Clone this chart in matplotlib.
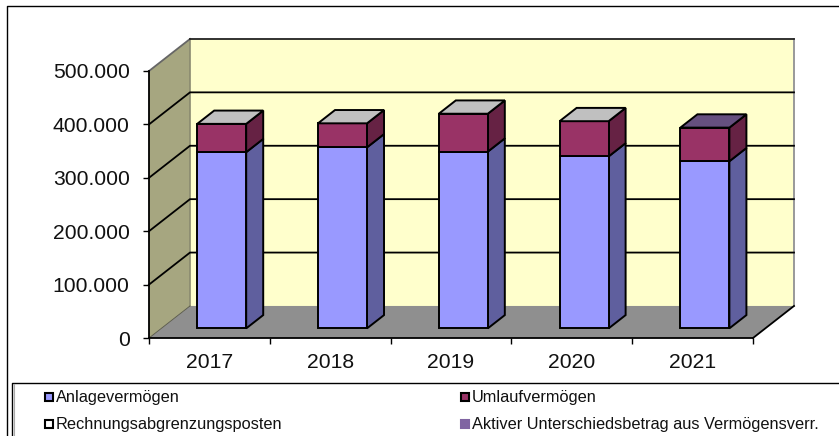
import matplotlib
matplotlib.use('Agg')
import matplotlib.pyplot as plt
from matplotlib.patches import Polygon, Rectangle

years = ['2017', '2018', '2019', '2020', '2021']
anlage = [330000, 339000, 331000, 322000, 313000]
umlauf = [53000, 45000, 71000, 66000, 63000]
yticks = [0, 100000, 200000, 300000, 400000, 500000]
ylabels = ['0', '100.000', '200.000', '300.000', '400.000', '500.000']
legend_names = ['Anlagevermögen', 'Umlaufvermögen', 'Rechnungsabgrenzungsposten',
                'Aktiver Unterschiedsbetrag aus Vermögensverr.']

W, H = 839, 436
plt.rcParams['font.family'] = ['Liberation Sans', 'DejaVu Sans']

fig = plt.figure(figsize=(W / 100, H / 100), dpi=100)
# page layer in pixels for the frame and the legend
page = fig.add_axes([0, 0, 1, 1])
page.set_xlim(0, W)
page.set_ylim(H, 0)
page.axis('off')

# chart axes = front plane of the 3d box
x0, x1, y0, y1 = 149, 753, 338, 71
ax = fig.add_axes([x0 / W, 1 - y0 / H, (x1 - x0) / W, (y0 - y1) / H])
ax.set_xlim(0, 5)
ax.set_ylim(0, 500000)
ax.patch.set_visible(False)
for s in ['top', 'right']:
    ax.spines[s].set_visible(False)
for s in ['left', 'bottom']:
    ax.spines[s].set_linewidth(1.3)
ax.set_xticks(range(6))
ax.set_xticklabels([])
ax.set_yticks(yticks)
ax.set_yticklabels(ylabels, fontsize=15.2, color='#111111')
ax.tick_params(axis='both', length=4, width=1, color='black')
ax.tick_params(axis='y', pad=10)
for i, y in enumerate(years):
    ax.text(i + 0.5, -46500, y, ha='center', va='center', fontsize=15.2, color='#111111')

DX = 41 / 120.8   # depth of the box in category units
DY = 60000        # depth of the box in value units


def proj(x, y, d):
    # d: 0 front plane, 1 back wall
    return (x + DX * d, y + DY * d)


def poly(pts, color, lw=0.0, ec='black', z=1):
    ax.add_patch(Polygon(pts, closed=True, fc=color, ec=ec, lw=lw, clip_on=False,
                         zorder=z, joinstyle='miter'))


# walls
poly([proj(0, 0, 1), proj(5, 0, 1), proj(5, 500000, 1), proj(0, 500000, 1)], '#FFFFCC', 0)
poly([proj(0, 0, 0), proj(0, 0, 1), proj(0, 500000, 1), proj(0, 500000, 0)], '#A6A680', 0)
poly([proj(0, 0, 0), proj(5, 0, 0), proj(5, 0, 1), proj(0, 0, 1)], '#8F8F8F', 0)
# grey wall edges
ax.plot(*zip(proj(0, 0, 1), proj(0, 500000, 1)), color='#8A8A70', lw=1.2, clip_on=False, zorder=2)
ax.plot(*zip(proj(5, 0, 1), proj(5, 500000, 1)), color='#999999', lw=1.4, clip_on=False, zorder=2)
ax.plot(*zip(proj(5, 0, 0), proj(5, 0, 1)), color='black', lw=1.3, clip_on=False, zorder=2)

# grid on side wall and back wall
for v in yticks[1:-1]:
    ax.plot(*zip(proj(0, v, 0), proj(0, v, 1), proj(5, v, 1)), color='black', lw=1.3,
            clip_on=False, zorder=2, solid_joinstyle='miter')
ax.plot(*zip(proj(0, 500000, 0), proj(0, 500000, 1)), color='#666666', lw=1.3, clip_on=False, zorder=2)
ax.plot(*zip(proj(0, 500000, 1), proj(5, 500000, 1)), color='#222222', lw=1.3, clip_on=False, zorder=2)
ax.plot(*zip(proj(0, 0, 0), proj(0, 0, 1)), color='#555544', lw=0.6, clip_on=False, zorder=2)

# bars
bar_w = 49 / 120.8
d_front, d_back = 0.30, 0.715
sides = ['#5F5F9E', '#662244']
fronts = ['#9999FF', '#993366']
tops = ['#C0C0C0', '#C0C0C0', '#C0C0C0', '#C0C0C0', '#66507F']
for i in range(len(years)):
    left = i + 0.5 - bar_w / 2
    right = left + bar_w
    bottom = 0
    for vals, fc, sc in zip([anlage, umlauf], fronts, sides):
        top = bottom + vals[i]
        poly([proj(right, bottom, d_front), proj(right, bottom, d_back),
              proj(right, top, d_back), proj(right, top, d_front)], sc, 1.4, z=3)
        poly([proj(left, bottom, d_front), proj(right, bottom, d_front),
              proj(right, top, d_front), proj(left, top, d_front)], fc, 1.4, z=4)
        bottom = top
    poly([proj(left, bottom, d_front), proj(right, bottom, d_front),
          proj(right, bottom, d_back), proj(left, bottom, d_back)], tops[i], 1.4, z=4)

# frame around chart, open on the right
page.plot([7, 7, 839], [436, 6, 6], color='black', lw=1.0)
# legend box
page.plot([12, 12, 839], [436, 383, 383], color='black', lw=1.0, zorder=5)
page.plot([13.5, 13.5], [384, 436], color='#aaaaaa', lw=0.8, zorder=6)
page.set_zorder(0)
ax.set_zorder(1)

leg_x = [44, 460]
leg_y = [397, 424]
swatches = [('#9999FF', 'black'), ('#993366', 'black'), ('white', 'black'), ('#8064A2', '#8064A2')]
for k, name in enumerate(legend_names):
    lx = leg_x[k % 2]
    ly = leg_y[k // 2]
    fc, ec = swatches[k]
    page.add_patch(Rectangle((lx + 0.5, ly - 4), 8, 8, fc=fc, ec=ec, lw=1.5, zorder=6))
    page.text(lx + 12, ly, name, ha='left', va='center', fontsize=11.75, color='#111111', zorder=6)

fig.savefig('out.png', dpi=100)
